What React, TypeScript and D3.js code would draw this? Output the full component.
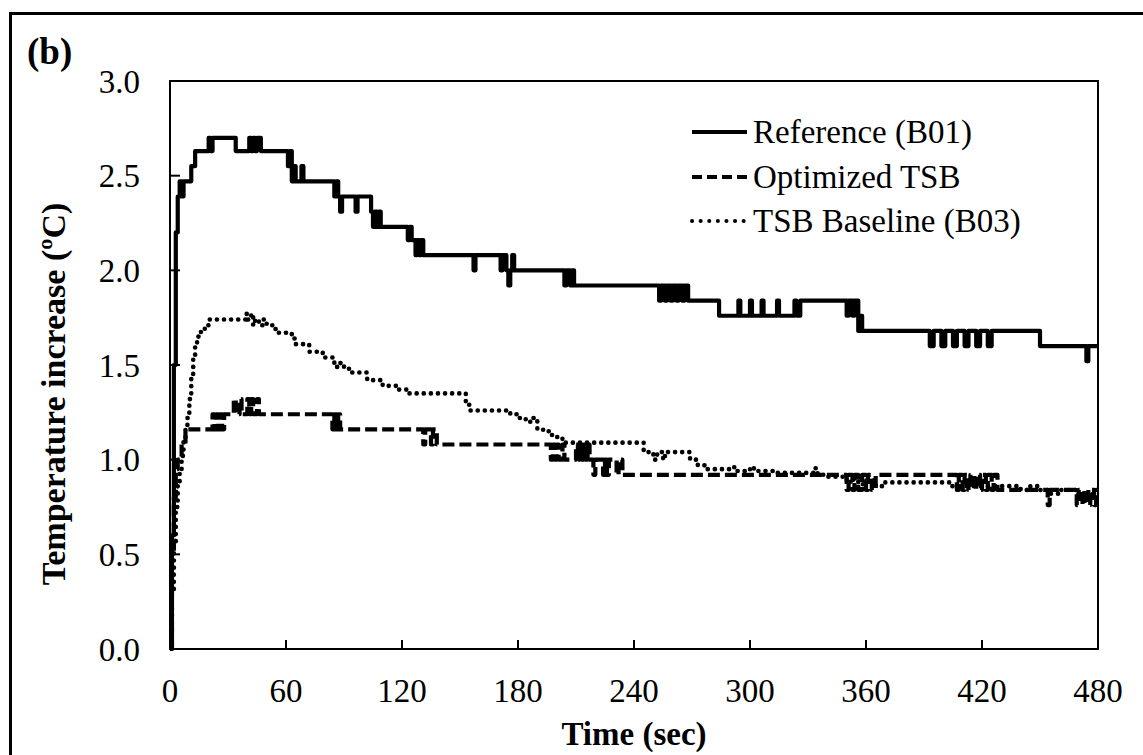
import React from "react";
import * as d3 from "d3";

const X_TICKS = [0, 60, 120, 180, 240, 300, 360, 420, 480];
const Y_TICKS = [0, 0.5, 1.0, 1.5, 2.0, 2.5, 3.0];

// Reference (B01) – change points (time s, value °C)
const refT = [0,1,2,3,4,5,6,7,11,13,20,21,22,34,41,42,43,44,45,47,61,62,63,64,65,68,69,85,86,87,88,89,96,97,104,105,106,107,108,109,123,124,125,127,128,129,130,131,157,158,171,172,174,175,176,177,178,204,205,207,208,209,253,254,256,257,259,260,262,263,265,266,268,284,294,295,300,301,306,307,314,315,323,324,326,350,351,353,354,356,357,358,393,395,399,401,405,407,411,413,417,419,423,425,450,474,475,480];
const refV = [0,0.6,1.5,2.2,2.39,2.47,2.39,2.47,2.55,2.63,2.70,2.63,2.70,2.63,2.70,2.63,2.70,2.63,2.70,2.63,2.55,2.63,2.47,2.55,2.47,2.55,2.47,2.39,2.47,2.39,2.31,2.39,2.31,2.39,2.31,2.23,2.31,2.23,2.31,2.23,2.16,2.23,2.16,2.08,2.16,2.08,2.16,2.08,2.00,2.08,2.00,2.08,2.00,1.92,2.00,2.08,2.00,1.92,2.00,1.92,2.00,1.92,1.84,1.92,1.84,1.92,1.84,1.92,1.84,1.92,1.84,1.92,1.84,1.76,1.84,1.76,1.84,1.76,1.84,1.76,1.84,1.76,1.84,1.76,1.84,1.76,1.84,1.76,1.84,1.68,1.76,1.68,1.60,1.68,1.60,1.68,1.60,1.68,1.60,1.68,1.60,1.68,1.60,1.68,1.60,1.52,1.60,1.60];

// Optimized TSB
const optT = [0,1,2,3,4,6,8,22,23,24,25,26,27,28,33,34,36,37,40,41,42,43,45,46,84,85,86,87,88,131,132,135,136,138,197,198,199,200,201,203,204,210,211,212,213,214,215,216,217,219,220,224,225,226,227,231,232,234,350,351,353,354,356,358,360,361,363,365,407,408,410,411,413,414,416,417,419,420,422,423,425,426,428,454,455,469,470,472,473,475,476,478,479,480];
const optV = [0,0.5,0.8,0.95,1.00,1.08,1.16,1.24,1.16,1.24,1.16,1.24,1.16,1.24,1.32,1.24,1.32,1.24,1.32,1.24,1.32,1.24,1.32,1.24,1.16,1.24,1.16,1.24,1.16,1.08,1.16,1.08,1.16,1.08,1.00,1.08,1.00,1.08,1.00,1.08,1.00,1.08,1.00,1.08,1.00,1.08,1.00,1.08,1.00,0.92,1.00,0.92,1.00,0.92,1.00,0.92,1.00,0.92,0.84,0.92,0.84,0.92,0.84,0.92,0.84,0.92,0.84,0.92,0.84,0.92,0.84,0.92,0.84,0.92,0.84,0.92,0.84,0.92,0.84,0.92,0.84,0.92,0.84,0.76,0.84,0.76,0.84,0.76,0.84,0.76,0.84,0.76,0.84,0.84];

// TSB Baseline (B03)
const baseT = [0,1,2,3,4,5,6,7,8,9,10,11,12,13,14,16,18,20,39,40,42,43,44,46,48,50,53,55,63,65,72,79,85,88,90,93,102,110,117,123,153,155,176,180,184,188,190,193,196,200,203,245,250,252,255,256,269,273,277,290,292,300,302,312,333,335,340,350,352,356,360,365,370,403,434,440,445,450,455,460,470,480];
const baseV = [0,0.3,0.55,0.75,0.88,0.95,1.02,1.1,1.16,1.22,1.32,1.45,1.55,1.61,1.65,1.68,1.71,1.74,1.77,1.74,1.77,1.71,1.74,1.71,1.74,1.71,1.69,1.67,1.64,1.61,1.57,1.54,1.49,1.51,1.48,1.46,1.42,1.39,1.37,1.35,1.29,1.26,1.24,1.22,1.20,1.22,1.16,1.15,1.13,1.12,1.09,1.04,1.00,1.04,1.00,1.04,1.00,0.97,0.95,0.96,0.94,0.96,0.94,0.93,0.955,0.92,0.91,0.88,0.90,0.87,0.89,0.86,0.88,0.86,0.86,0.84,0.86,0.84,0.82,0.84,0.82,0.82];

const SERIES = [
  { name: "Reference (B01)", t: refT, v: refV, width: 4.2, dash: "none", cap: "butt" },
  { name: "Optimized TSB", t: optT, v: optV, width: 4.2, dash: "12,5", cap: "butt" },
  { name: "TSB Baseline (B03)", t: baseT, v: baseV, width: 4.6, dash: "0.1,7", cap: "round" },
];

const FONT = "'Liberation Serif', 'Times New Roman', serif";

export default function App() {
  const W = 1143, H = 755;
  const x = d3.scaleLinear().domain([0, 480]).range([170, 1098]);
  const y = d3.scaleLinear().domain([0, 3]).range([649, 81]);
  const line = d3
    .line<[number, number]>()
    .x((d) => x(d[0]))
    .y((d) => y(d[1]))
    .curve(d3.curveStepAfter);

  const legendX0 = 692, legendX1 = 747;
  const legendY = [132, 177, 221];

  return (
    <svg
      width={W}
      height={H}
      style={{ position: "absolute", left: 0, top: 0, background: "#fff" }}
      fontFamily={FONT}
    >
      <rect x={0} y={0} width={W} height={H} fill="#fff" />
      {/* outer frame (only left & top visible) */}
      <rect x={10.5} y={13.5} width={W + 20} height={H + 20} fill="none" stroke="#000" strokeWidth={3} />
      <text x={27} y={64} fontSize={37} fontWeight="bold">(b)</text>

      <defs>
        <clipPath id="plotclip">
          <rect x={170} y={60} width={930} height={592} />
        </clipPath>
      </defs>

      {/* series */}
      <g clipPath="url(#plotclip)">
        {SERIES.map((s, i) => (
          <path
            key={i}
            d={line(s.t.map((t, j) => [t, s.v[j]] as [number, number])) || ""}
            fill="none"
            stroke="#000"
            strokeWidth={s.width}
            strokeDasharray={s.dash}
            strokeLinecap={s.cap as any}
            strokeLinejoin="round"
          />
        ))}
      </g>

      {/* plot box */}
      <rect x={170} y={81} width={928} height={568} fill="none" stroke="#000" strokeWidth={2} />

      {/* y ticks */}
      {Y_TICKS.map((v) => (
        <g key={"y" + v}>
          <line x1={170} x2={180} y1={y(v)} y2={y(v)} stroke="#000" strokeWidth={2} />
          <text x={140} y={y(v) + 11.5} fontSize={33} textAnchor="end">{v.toFixed(1)}</text>
        </g>
      ))}
      {/* x ticks */}
      {X_TICKS.map((t) => (
        <g key={"x" + t}>
          <line x1={x(t)} x2={x(t)} y1={649} y2={640} stroke="#000" strokeWidth={2} />
          <text x={x(t)} y={702} fontSize={33} textAnchor="middle">{t}</text>
        </g>
      ))}

      <text x={634} y={745} fontSize={33} fontWeight="bold" textAnchor="middle">Time (sec)</text>
      <text transform="translate(65,394) rotate(-90)" fontSize={34} fontWeight="bold" textAnchor="middle">
        Temperature increase (ºC)
      </text>

      {/* legend */}
      {SERIES.map((s, i) => (
        <g key={"l" + i}>
          <line
            x1={legendX0}
            x2={legendX1}
            y1={legendY[i]}
            y2={legendY[i]}
            stroke="#000"
            strokeWidth={i === 2 ? 4 : 4.2}
            strokeDasharray={i === 1 ? "10,5" : i === 2 ? "0.1,8.5" : "none"}
            strokeLinecap={i === 2 ? "round" : "butt"}
          />
          <text x={753} y={legendY[i] + 11} fontSize={33}>{s.name}</text>
        </g>
      ))}
    </svg>
  );
}
